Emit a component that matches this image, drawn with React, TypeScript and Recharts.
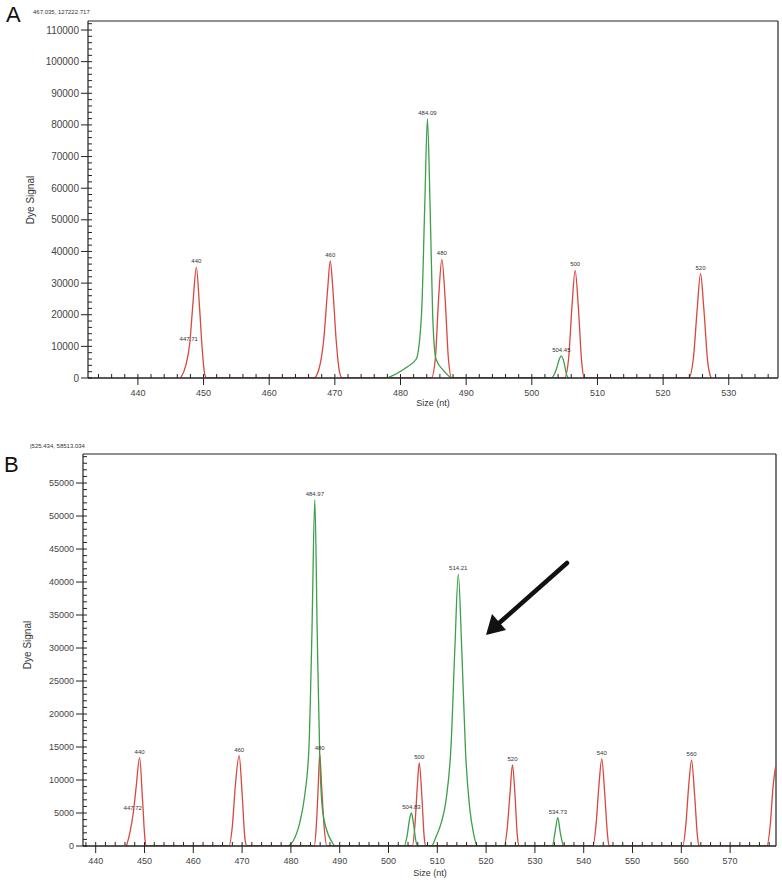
import React from 'react';
import { LineChart, Line, XAxis, YAxis, ReferenceLine, ReferenceDot } from 'recharts';

// ---- Panel A data (size in nt, dye signal) ----
const redA: [number, number][] = [
  [446.5, 0], [447.3, 4000], [447.9, 11000], [448.4, 24000], [448.9, 35000], [449.4, 22000], [449.8, 9000], [450.2, 1000], [450.5, 0],
  [466.8, 0], [467.6, 3000], [468.3, 12000], [468.9, 28000], [469.3, 37000], [469.7, 28000], [470.2, 12000], [470.7, 2000], [471.1, 0],
  [484.7, 0], [485.3, 6000], [485.8, 25000], [486.3, 37500], [486.8, 25000], [487.3, 6000], [487.8, 0],
  [505.0, 0], [505.6, 6000], [506.1, 22000], [506.6, 34000], [507.1, 22000], [507.6, 5000], [508.0, 0],
  [523.9, 0], [524.6, 6000], [525.2, 22000], [525.7, 33000], [526.2, 22000], [526.8, 5000], [527.3, 0],
];
const greenA: [number, number][] = [
  [478.0, 0], [479.5, 1500], [481.0, 3500], [482.4, 6000], [483.2, 20000], [483.7, 55000], [484.1, 82000], [484.5, 55000],
  [484.9, 20000], [485.4, 6000], [486.5, 2500], [488.0, 0],
  [503.0, 0], [503.7, 2500], [504.2, 6000], [504.5, 7000], [504.9, 5000], [505.3, 1000], [505.6, 0],
];
const labelsA: [number, number, string][] = [
  [448.9, 35000, '440'], [447.75, 10500, '447.71'], [469.3, 37000, '460'], [484.1, 82000, '484.09'],
  [486.3, 37500, '480'], [504.5, 7000, '504.45'], [506.6, 34000, '500'], [525.7, 33000, '520'],
];
const xMajorA = [440, 450, 460, 470, 480, 490, 500, 510, 520, 530];
const yMajorA = [0, 10000, 20000, 30000, 40000, 50000, 60000, 70000, 80000, 90000, 100000, 110000];

// ---- Panel B data ----
const redB: [number, number][] = [
  [446.3, 0], [447.0, 2000], [447.7, 5000], [448.3, 9000], [449.0, 13400], [449.6, 7000], [450.1, 1000], [450.4, 0],
  [467.3, 0], [468.0, 3000], [468.6, 9000], [469.4, 13700], [470.0, 8000], [470.6, 1000], [471.0, 0],
  [484.8, 0], [485.2, 3000], [485.6, 9000], [485.9, 14000], [486.3, 9000], [486.8, 3000], [487.4, 0],
  [504.9, 0], [505.4, 3000], [505.9, 9000], [506.3, 12600], [506.8, 8000], [507.3, 1500], [507.6, 0],
  [523.7, 0], [524.3, 2500], [524.9, 8000], [525.4, 12300], [525.9, 8000], [526.4, 1500], [526.8, 0],
  [541.9, 0], [542.5, 3000], [543.1, 9000], [543.7, 13200], [544.3, 8000], [544.9, 1500], [545.2, 0],
  [560.3, 0], [560.9, 3000], [561.5, 9000], [562.1, 13000], [562.7, 8000], [563.3, 1500], [563.6, 0],
  [577.5, 0], [578.2, 3000], [578.8, 9000], [579.3, 12000],
];
const greenB: [number, number][] = [
  [479.5, 0], [480.5, 800], [481.8, 3500], [482.8, 7500], [483.7, 15000], [484.3, 32000], [484.9, 52500], [485.4, 32000],
  [485.9, 14000], [486.4, 6000], [487.3, 2500], [488.5, 500], [489.0, 0],
  [503.2, 0], [503.8, 1500], [504.3, 4000], [504.7, 5000], [505.1, 3500], [505.6, 800], [506.0, 0],
  [508.8, 0], [509.8, 1500], [510.8, 3500], [511.8, 7000], [512.8, 15000], [513.6, 30000], [514.3, 41200], [515.0, 30000],
  [515.8, 14000], [516.6, 6000], [517.4, 2000], [518.3, 0],
  [533.6, 0], [534.1, 2000], [534.7, 4300], [535.2, 2000], [535.8, 0],
];
const labelsB: [number, number, string][] = [
  [449.0, 13400, '440'], [447.6, 4800, '447.72'], [469.4, 13700, '460'], [484.9, 52500, '484.97'],
  [485.9, 14000, '480'], [504.7, 5000, '504.83'], [506.3, 12600, '500'], [514.3, 41200, '514.21'],
  [525.4, 12300, '520'], [534.7, 4300, '534.73'], [543.7, 13200, '540'], [562.1, 13000, '560'],
];
const xMajorB = [440, 450, 460, 470, 480, 490, 500, 510, 520, 530, 540, 550, 560, 570];
const yMajorB = [0, 5000, 10000, 15000, 20000, 25000, 30000, 35000, 40000, 45000, 50000, 55000];

const RED = '#d9473f';
const GREEN = '#3c9f4a';
const AXIS = '#222';
const FONT = '"Liberation Sans", Arial, sans-serif';

const toPts = (arr: [number, number][]) => arr.map(([size, signal]) => ({ size, signal }));

// tick lists incl. minor ticks
const range = (a: number, b: number, step: number) => {
  const out: number[] = [];
  for (let v = a; v <= b + 1e-6; v += step) out.push(v);
  return out;
};

const makeXTick = (majors: number[], fs: number) => (props: any) => {
  const { x, y, payload } = props;
  const major = majors.includes(payload.value);
  return (
    <g>
      <line x1={x} x2={x} y1={y - 4} y2={y} stroke={AXIS} />
      {major && <line x1={x} x2={x} y1={y} y2={y + 7} stroke={AXIS} />}
      {major && (
        <text x={x} y={y + 18} textAnchor="middle" fontSize={fs} fill="#444" fontFamily={FONT}>
          {payload.value}
        </text>
      )}
    </g>
  );
};

const makeYTick = (majors: number[], fs: number) => (props: any) => {
  const { x, y, payload } = props;
  const major = majors.includes(payload.value);
  return (
    <g>
      <line x1={x} x2={x + 4} y1={y} y2={y} stroke={AXIS} />
      {major && <line x1={x - 7} x2={x} y1={y} y2={y} stroke={AXIS} />}
      {major && (
        <text x={x - 9} y={y} dy="0.35em" textAnchor="end" fontSize={fs} fill="#444" fontFamily={FONT}>
          {payload.value}
        </text>
      )}
    </g>
  );
};

const PeakChart = ({
  red, green, labels, xDomain, yDomain, xMajor, yMajor, xTicks, yTicks, width, height, margin, yAxisWidth, yFont,
}: any) => (
  <LineChart width={width} height={height} margin={margin}>
    <XAxis
      type="number"
      dataKey="size"
      domain={xDomain}
      ticks={xTicks}
      interval={0}
      allowDataOverflow
      tickSize={0}
      tickMargin={0}
      tickLine={false}
      axisLine={{ stroke: AXIS, strokeWidth: 1.5 }}
      tick={makeXTick(xMajor, 9)}
      height={30}
    />
    <YAxis
      type="number"
      domain={yDomain}
      ticks={yTicks}
      interval={0}
      allowDataOverflow
      tickSize={0}
      tickMargin={0}
      tickLine={false}
      axisLine={{ stroke: AXIS, strokeWidth: 1.2 }}
      tick={makeYTick(yMajor, yFont)}
      width={yAxisWidth}
    />
    <ReferenceLine y={yDomain[1]} stroke={AXIS} strokeWidth={1.2} />
    <ReferenceLine x={xDomain[1]} stroke={AXIS} strokeWidth={1.2} />
    <Line data={toPts(red)} dataKey="signal" type="monotone" stroke={RED} strokeWidth={1.3} dot={false} isAnimationActive={false} />
    <Line data={toPts(green)} dataKey="signal" type="monotone" stroke={GREEN} strokeWidth={1.3} dot={false} isAnimationActive={false} />
    {labels.map(([s, v, t]: [number, number, string]) => (
      <ReferenceDot
        key={t}
        x={s}
        y={v}
        r={0.01}
        fill="none"
        stroke="none"
        label={{ value: t, position: 'top', offset: 4, fontSize: 6, fill: '#333', fontFamily: FONT }}
      />
    ))}
  </LineChart>
);

const small: React.CSSProperties = { position: 'absolute', fontFamily: FONT, color: '#333', whiteSpace: 'nowrap' };

export default function App() {
  return (
    <div style={{ position: 'absolute', left: 0, top: 0, width: 782, height: 888, background: '#fff', overflow: 'hidden' }}>
      {/* Panel A */}
      <div style={{ position: 'absolute', left: 0, top: 0 }}>
        <PeakChart
          red={redA}
          green={greenA}
          labels={labelsA}
          xDomain={[432.4, 537.5]}
          yDomain={[0, 112850]}
          xMajor={xMajorA}
          yMajor={yMajorA}
          xTicks={range(434, 536, 2)}
          yTicks={range(0, 112000, 2000)}
          width={782}
          height={420}
          margin={{ top: 21, right: 4, left: 0, bottom: 12 }}
          yAxisWidth={88}
          yFont={10}
        />
      </div>
      <div style={{ ...small, left: 6, top: 2, fontSize: 22, color: '#111', fontFamily: 'Arial, sans-serif' }}>A</div>
      <div style={{ ...small, left: 33, top: 9, fontSize: 6 }}>467.035, 127222.717</div>
      <div style={{ ...small, left: 30, top: 200, fontSize: 10, transform: 'translate(-50%, -50%) rotate(-90deg)' }}>Dye Signal</div>
      <div style={{ ...small, left: 433, top: 403, fontSize: 9, transform: 'translate(-50%, -50%)' }}>Size (nt)</div>

      {/* Panel B */}
      <div style={{ position: 'absolute', left: 0, top: 440 }}>
        <PeakChart
          red={redB}
          green={greenB}
          labels={labelsB}
          xDomain={[437.4, 579.4]}
          yDomain={[0, 59400]}
          xMajor={xMajorB}
          yMajor={yMajorB}
          xTicks={range(438, 578, 2)}
          yTicks={range(0, 59000, 1000)}
          width={782}
          height={448}
          margin={{ top: 14, right: 6, left: 0, bottom: 12 }}
          yAxisWidth={83}
          yFont={9}
        />
      </div>
      <div style={{ ...small, left: 4, top: 452, fontSize: 22, color: '#111', fontFamily: 'Arial, sans-serif' }}>B</div>
      <div style={{ ...small, left: 30, top: 443, fontSize: 6 }}>|525.434, 58513.034</div>
      <div style={{ ...small, left: 27, top: 645, fontSize: 10, transform: 'translate(-50%, -50%) rotate(-90deg)' }}>Dye Signal</div>
      <div style={{ ...small, left: 430, top: 873, fontSize: 9, transform: 'translate(-50%, -50%)' }}>Size (nt)</div>

      {/* arrow annotation */}
      <svg width={782} height={888} style={{ position: 'absolute', left: 0, top: 0, pointerEvents: 'none' }}>
        <line x1={567} y1={563} x2={498} y2={624} stroke="#111" strokeWidth={4.5} strokeLinecap="round" />
        <polygon points="486,635 492,614 506,630" fill="#111" />
      </svg>
    </div>
  );
}
